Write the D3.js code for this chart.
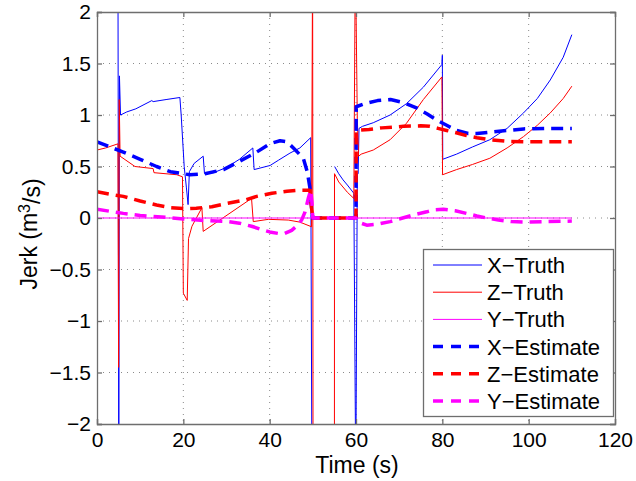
<!DOCTYPE html>
<html>
<head>
<meta charset="utf-8">
<script src="https://cdn.jsdelivr.net/npm/d3@7"></script>
<style>
  html, body { margin: 0; padding: 0; background: #fff; }
  svg { display: block; font-family: "Liberation Sans", Arial, Helvetica, sans-serif; }
</style>
</head>
<body>
<svg id="chart" width="636" height="481"></svg>
<script>
// Time (s) / jerk pairs for each trace; null breaks a trace into separate pieces.
const xTruth = [
  [4.85, 2.6], [5.05, -2.6], [5.2, 1.38], [5.45, 1.0], [6.9, 1.03], [9, 1.06], [12.7, 1.14],
  [13, 1.13], [16, 1.15], [19.2, 1.17], [19.5, 1.0], [20.2, 0.5], [20.7, 0.3], [21.1, 0.13],
  [21.4, 0.45], [22.5, 0.53], [24.6, 0.6], [24.9, 0.43], [27, 0.44], [30, 0.49], [33, 0.57],
  [36.1, 0.68], [36.4, 0.47], [40.1, 0.51], [42, 0.56], [44.7, 0.63], [47, 0.68], [49.5, 0.78],
  [49.8, -2.6], null,
  [55.05, 0.5], [56, 0.43], [57, 0.37], [58, 0.32], [59.5, 0.24], [59.95, -2.6], [60.3, 0.43],
  [60.5, 0.43], [60.7, 0.87], [61.5, 0.89], [64, 0.925], [67.9, 1.0], [71.7, 1.11], [75.6, 1.27],
  [79.9, 1.49], [80.0, 1.58], [80.1, 0.57], [83.3, 0.62], [87, 0.69], [91, 0.76], [95, 0.87],
  [98.8, 1.02], [102, 1.16], [105, 1.34], [108, 1.56], [110, 1.78]
];
const zTruth = [
  [0, 0.66], [2, 0.68], [4.85, 0.72], [5.0, -1.45], [5.15, 1.15], [5.35, 0.6], [8.8, 0.5],
  [13, 0.48], [13.2, 0.44], [18.5, 0.42], [19.8, 0.40], [20.0, -0.73], [20.9, -0.8],
  [21.2, -0.2], [22, -0.08], [24.3, 0.1], [24.6, -0.13], [35.8, 0.19], [36.2, -0.035],
  [39.7, -0.013], [44.3, -0.02], [47, -0.04], [49.7, -0.085], [49.95, 2.6], [50.05, -2.6], null,
  [55, -2.6], [55.02, 0.43], [56, 0.35], [58, 0.25], [59.5, 0.19], [59.85, 2.6], [60.3, 0.97],
  [60.6, 0.6], [61.2, 0.62], [64, 0.66], [67.9, 0.76], [71.7, 0.92], [75.6, 1.15], [79.9, 1.37],
  [80.05, 0.42], [83.3, 0.47], [87, 0.52], [91, 0.58], [95, 0.68], [98.8, 0.79], [102, 0.9],
  [105, 1.02], [108, 1.16], [110, 1.28]
];
const yTruth = [[0, 0], [110, 0]];
const xEstimate = [
  [0, 0.74], [3, 0.69], [6.1, 0.64], [10, 0.57], [13.8, 0.5], [17, 0.45], [21.5, 0.42],
  [25, 0.43], [29.3, 0.47], [33, 0.55], [37, 0.64], [40, 0.72], [42.4, 0.75], [44, 0.74],
  [45.5, 0.68], [47.8, 0.58], [48.7, 0.45], [49.3, 0.3], [49.7, 0.1], [50, 0], [60, 0],
  [60.05, 1.08], [62, 1.11], [65, 1.14], [68, 1.15], [71, 1.12], [74, 1.07], [76.5, 1.01],
  [78.7, 0.95], [81, 0.9], [83.3, 0.85], [86, 0.82], [88, 0.82], [92.6, 0.84], [98.8, 0.865],
  [104, 0.87], [110, 0.87]
];
const zEstimate = [
  [0, 0.255], [3, 0.23], [6.1, 0.21], [10, 0.165], [13.8, 0.126], [17, 0.1], [20.4, 0.09],
  [23, 0.095], [26.6, 0.11], [30, 0.14], [34.3, 0.175], [37, 0.21], [40.5, 0.24], [44, 0.26],
  [47, 0.27], [49.3, 0.27], [49.7, 0.1], [50, 0], [60, 0], [60.05, 0.85], [63, 0.86],
  [66, 0.875], [71, 0.89], [75, 0.895], [77.1, 0.89], [79, 0.87], [81, 0.85], [83, 0.83],
  [85.6, 0.8], [88, 0.78], [91, 0.76], [95, 0.745], [98.8, 0.74], [104, 0.74], [110, 0.74]
];
const yEstimate = [
  [0, 0.085], [3, 0.065], [6.1, 0.045], [10, 0.025], [15, 0.01], [20, -0.01], [25, -0.025],
  [30.4, -0.035], [33, -0.05], [35.8, -0.08], [38, -0.11], [40, -0.135], [42, -0.15],
  [43.5, -0.15], [45.1, -0.12], [46.5, -0.07], [47.4, -0.02], [48.2, 0.06], [49, 0.2],
  [49.5, 0.27], [49.8, 0.15], [50, 0], [60, 0], [60.5, -0.04], [62.5, -0.07], [65, -0.06],
  [67.9, -0.035], [70, -0.01], [73.3, 0.03], [76.4, 0.06], [78, 0.08], [80.2, 0.085],
  [83, 0.07], [85.6, 0.045], [88, 0.02], [90.3, 0], [93, -0.02], [96, -0.035], [100, -0.04],
  [104, -0.035], [110, -0.03]
];

const seriesNames = ["X\u2212Truth", "Z\u2212Truth", "Y\u2212Truth", "X\u2212Estimate", "Z\u2212Estimate", "Y\u2212Estimate"];
const xTicks = [0, 20, 40, 60, 80, 100, 120];
const yTicks = [-2, -1.5, -1, -0.5, 0, 0.5, 1, 1.5, 2];

const series = [
  { name: seriesNames[0], data: xTruth,    color: "#0000ff", width: 1,   dash: null },
  { name: seriesNames[1], data: zTruth,    color: "#ff0000", width: 1,   dash: null },
  { name: seriesNames[2], data: yTruth,    color: "#ff00ff", width: 1,   dash: null },
  { name: seriesNames[3], data: xEstimate, color: "#0000ff", width: 3.5, dash: "12,7" },
  { name: seriesNames[4], data: zEstimate, color: "#ff0000", width: 3.5, dash: "12,7" },
  { name: seriesNames[5], data: yEstimate, color: "#ff00ff", width: 3.5, dash: "12,7" }
];

const svg = d3.select("#chart");
const L = 97, R = 615, T = 12, B = 424;
const x = d3.scaleLinear().domain([0, 120]).range([L, R]);
const y = d3.scaleLinear().domain([-2, 2]).range([B, T]);
const fmt = d3.format("~g");
const axisColor = "#6e6e6e";

// dotted grid
const grid = svg.append("g");
grid.selectAll("line.gx").data(xTicks.slice(1, -1)).join("line")
  .attr("x1", d => x(d)).attr("x2", d => x(d)).attr("y1", T).attr("y2", B)
  .attr("stroke", "#8a8a8a").attr("stroke-width", 1).attr("stroke-dasharray", "1,5");
grid.selectAll("line.gy").data(yTicks.slice(1, -1)).join("line")
  .attr("x1", L).attr("x2", R).attr("y1", d => y(d)).attr("y2", d => y(d))
  .attr("stroke", "#8a8a8a").attr("stroke-width", 1).attr("stroke-dasharray", "1,5");

// traces, clipped to the axes box
svg.append("clipPath").attr("id", "plotclip")
  .append("rect").attr("x", L).attr("y", T).attr("width", R - L).attr("height", B - T);
const line = d3.line().defined(d => d !== null).x(d => x(d[0])).y(d => y(d[1]));
const plot = svg.append("g").attr("clip-path", "url(#plotclip)");
series.forEach(s => {
  plot.append("path").datum(s.data)
    .attr("d", line).attr("fill", "none")
    .attr("stroke", s.color).attr("stroke-width", s.width)
    .attr("stroke-dasharray", s.dash)
    .attr("stroke-linejoin", "round");
});

// axes: ticks inside on all four sides
const tickLen = 5;
const axes = svg.append("g");
const bottomAxis = d3.axisBottom(x).tickValues(xTicks).tickSize(-tickLen).tickPadding(8).tickFormat(fmt);
const topAxis = d3.axisTop(x).tickValues(xTicks).tickSize(-tickLen).tickFormat("");
const leftAxis = d3.axisLeft(y).tickValues(yTicks).tickSize(-tickLen).tickPadding(6).tickFormat(fmt);
const rightAxis = d3.axisRight(y).tickValues(yTicks).tickSize(-tickLen).tickFormat("");

function styleAxis(g) {
  g.select(".domain").attr("stroke", axisColor).attr("stroke-width", 1.3);
  g.selectAll(".tick line").attr("stroke", axisColor).attr("stroke-width", 1.3);
  g.selectAll(".tick text").attr("fill", "#000").style("font-size", "21px")
    .style("font-family", "'Liberation Sans', Arial, sans-serif");
}
axes.append("g").attr("transform", `translate(0,${B})`).call(bottomAxis).call(styleAxis);
axes.append("g").attr("transform", `translate(0,${T})`).call(topAxis).call(styleAxis);
axes.append("g").attr("transform", `translate(${L},0)`).call(leftAxis).call(styleAxis);
axes.append("g").attr("transform", `translate(${R},0)`).call(rightAxis).call(styleAxis);

// axis titles
svg.append("text").attr("x", 357).attr("y", 473).attr("text-anchor", "middle")
  .style("font-size", "23px").text("Time (s)");
const yl = svg.append("text").attr("transform", "translate(37,234) rotate(-90)")
  .attr("text-anchor", "middle").style("font-size", "23px");
yl.append("tspan").text("Jerk (m");
yl.append("tspan").attr("dy", "-0.45em").style("font-size", "16px").text("3");
yl.append("tspan").attr("dy", "0.45em").text("/s)");

// legend
const lg = svg.append("g");
lg.append("rect").attr("x", 423.5).attr("y", 249.5).attr("width", 190).attr("height", 167)
  .attr("fill", "#fff").attr("stroke", axisColor).attr("stroke-width", 1.3);
const rowY = d3.scaleLinear().domain([0, 5]).range([265, 401]);
series.forEach((s, i) => {
  const cy = rowY(i);
  lg.append("line").attr("x1", 433).attr("x2", 482).attr("y1", cy).attr("y2", cy)
    .attr("stroke", s.color).attr("stroke-width", s.width)
    .attr("stroke-dasharray", s.dash ? "10,8" : null);
  lg.append("text").attr("x", 487).attr("y", cy + 8)
    .style("font-size", "22px").text(s.name);
});
</script>
</body>
</html>
